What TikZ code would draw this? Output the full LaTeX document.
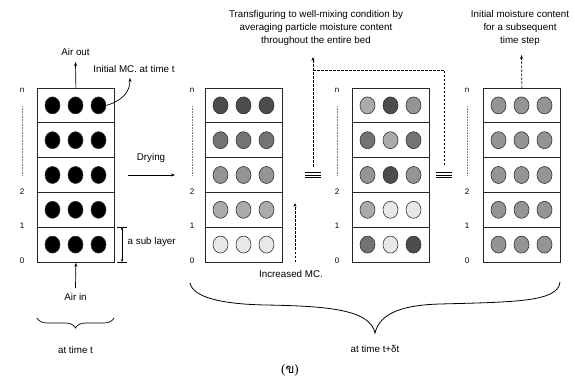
\documentclass[tikz,border=0pt]{standalone}
\usepackage{fontspec}
\setmainfont{Liberation Sans}
\newfontfamily\thaifont[Script=Thai]{Loma}
\newfontfamily\parenfont{Liberation Serif}
\usetikzlibrary{arrows.meta,decorations.pathreplacing,shapes.geometric}
\definecolor{gA}{gray}{0.30}
\definecolor{gB}{gray}{0.45}
\definecolor{gC}{gray}{0.58}
\definecolor{gD}{gray}{0.67}
\definecolor{gE}{gray}{0.91}
\definecolor{gK}{gray}{0.0}
\begin{document}
\begin{tikzpicture}[x=1pt,y=-1pt,
  box/.style={draw=black!85,line width=0.8pt,minimum width=77pt,minimum height=174pt,inner sep=0pt,anchor=north west},
  grain/.style={ellipse,draw=black!80,line width=0.6pt,minimum width=15pt,minimum height=17pt,inner sep=0pt},
  lbl/.style={font=\fontsize{8}{9}\selectfont,inner sep=0pt},
  txt/.style={font=\fontsize{9.8}{13}\selectfont,inner sep=0pt,align=center},
  arr/.style={-{Stealth[length=4pt,width=3pt]},line width=0.7pt},
  darr/.style={arr,dash pattern=on 2.5pt off 1.5pt},
  dline/.style={line width=0.7pt,dash pattern=on 2.5pt off 1.5pt},
  dots/.style={line width=0.7pt,gray,dash pattern=on 0.8pt off 0.8pt},
  layer/.style={draw=black!85,line width=0.8pt},
]
\useasboundingbox (0,0) rectangle (575,379);

% boxes
\node[box] (B1) at (37,88) {};
\node[box] (B2) at (205,88) {};
\node[box] (B3) at (352,88) {};
\node[box] (B4) at (483,88) {};
\foreach \b in {B1,B2,B3,B4}{
  \foreach \k in {1,...,4}{
    \draw[layer] ([yshift=-\k*34.8pt]\b.north west) -- ([yshift=-\k*34.8pt]\b.north east);
  }
}

% grains
\foreach \r/\ca/\cb/\cc in {1/gK/gK/gK,2/gK/gK/gK,3/gK/gK/gK,4/gK/gK/gK,5/gK/gK/gK}{
  \node[grain,fill=\ca] (g1-\r-1) at (52.5,70.6+34.8*\r) {};
  \node[grain,fill=\cb] (g1-\r-2) at (75.5,70.6+34.8*\r) {};
  \node[grain,fill=\cc] (g1-\r-3) at (98.5,70.6+34.8*\r) {};
}
\foreach \r/\ca/\cb/\cc in {1/gA/gA/gA,2/gB/gB/gB,3/gC/gC/gC,4/gD/gD/gD,5/gE/gE/gE}{
  \node[grain,fill=\ca] (g2-\r-1) at (220.5,70.6+34.8*\r) {};
  \node[grain,fill=\cb] (g2-\r-2) at (243.5,70.6+34.8*\r) {};
  \node[grain,fill=\cc] (g2-\r-3) at (266.5,70.6+34.8*\r) {};
}
\foreach \r/\ca/\cb/\cc in {1/gD/gA/gC,2/gB/gD/gB,3/gC/gA/gC,4/gD/gE/gE,5/gB/gE/gA}{
  \node[grain,fill=\ca] (g3-\r-1) at (367.5,70.6+34.8*\r) {};
  \node[grain,fill=\cb] (g3-\r-2) at (390.5,70.6+34.8*\r) {};
  \node[grain,fill=\cc] (g3-\r-3) at (413.5,70.6+34.8*\r) {};
}
\foreach \r in {1,...,5}{
  \node[grain,fill=gC] (g4-\r-1) at (498.5,70.6+34.8*\r) {};
  \node[grain,fill=gC] (g4-\r-2) at (521.5,70.6+34.8*\r) {};
  \node[grain,fill=gC] (g4-\r-3) at (544.5,70.6+34.8*\r) {};
}

% layer index labels
\foreach \i/\lx in {1/22,2/192,3/337,4/467}{
  \node[lbl] (ln\i) at (\lx,90) {n};
  \node[lbl] (ltwo\i) at (\lx,192) {2};
  \node[lbl] (lone\i) at (\lx,226) {1};
  \node[lbl] (lzero\i) at (\lx,261) {0};
  \draw[dots] (\lx,106) -- (\lx,175);
}

% box 1 annotations
\node[txt] (airout) at (75.5,52) {Air out};
\coordinate (aotip) at (75.5,62);
\draw[arr] (B1.north) -- (aotip);
\node[txt] (imc) at (134,68.5) {Initial MC. at time t};
\coordinate (imctip) at (130,78);
\draw[arr] (g1-1-3.east) .. controls (122,101) and (130,92) .. (imctip);

\coordinate (sl1) at (122,227.2);
\coordinate (sl2) at (122,262);
\draw[line width=0.6pt] ([xshift=-5pt]sl1) -- ([xshift=5pt]sl1);
\draw[line width=0.6pt] ([xshift=-5pt]sl2) -- ([xshift=5pt]sl2);
\draw[{Stealth[length=3pt,width=2.5pt]}-{Stealth[length=3pt,width=2.5pt]},line width=0.6pt] (sl1) -- (sl2);
\node[txt,anchor=west] (sub) at (127.5,242) {a sub layer};

\node[txt] (airin) at (75.5,297) {Air in};
\coordinate (aibot) at (75.5,288);
\draw[arr] (aibot) -- (B1.south);

\draw[line width=0.7pt,decorate,decoration={brace,mirror,amplitude=10pt}] (37,318) -- (114,318);
\node[txt] (t1) at (75.5,350) {at time t};

% drying
\node[txt] (dry) at (151,158) {Drying};
\coordinate (d0) at (128,175);
\coordinate (d1) at (175,175);
\draw[arr] (d0) -- (d1);

% equivalence signs
\coordinate (eq1) at (313,175);
\coordinate (eq2) at (444,175);
\foreach \e in {eq1,eq2}{
  \foreach \dy in {-2.5,0,2.5}{
    \draw[line width=0.6pt] ([shift={(-8pt,-\dy pt)}]\e) -- ([shift={(8pt,-\dy pt)}]\e);
  }
}

% mixing annotation
\node[txt] (mix) at (316,28) {Transfiguring to well-mixing condition by\\averaging particle moisture content\\throughout the entire bed};
\coordinate (eq1top) at (313,167);
\coordinate (eq2top) at (444,167);
\coordinate (mixtip) at (313,57);
\coordinate (mixjoin) at (313,70);
\draw[darr] (eq1top) -- (mixtip);
\draw[dline] (mixjoin) -| (eq2top);

% next step annotation
\node[txt] (nxt) at (520,28) {Initial moisture content\\for a subsequent\\time step};
\coordinate (nxttip) at (521.5,55);
\draw[darr] (B4.north) -- (nxttip);

% increased MC
\coordinate (inc0) at (295,262);
\coordinate (inc1) at (295,203);
\draw[darr] (inc0) -- (inc1);
\node[txt] (inc) at (291,274) {Increased MC.};

% big brace
\draw[line width=0.8pt] (190,283) .. controls (193,297) and (220,304) .. (265,305)
  .. controls (330,306) and (370,310) .. (375,333)
  .. controls (380,312) and (405,305) .. (440,304)
  .. controls (515,302) and (558,302) .. (560,282);
\node[txt] (t2) at (375,348.5) {at time t+δt};

% caption
\node[inner sep=0pt,font=\fontsize{13}{15}\selectfont] (cap) at (290,370) {{\parenfont(}{\thaifont ข}{\parenfont)}};
\end{tikzpicture}
\end{document}
